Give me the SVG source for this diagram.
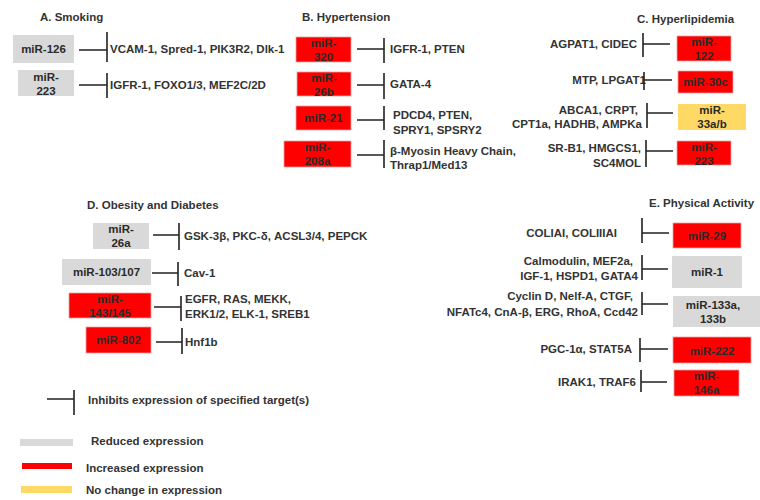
<svg xmlns="http://www.w3.org/2000/svg" width="760" height="500" viewBox="0 0 760 500">
<style>
text{font-family:"Liberation Sans",Arial,sans-serif;font-weight:bold;font-size:11.5px;fill:#333}
.c{text-anchor:middle}
.e{text-anchor:end}
.bx text{fill:#2a2a2a}
.red{fill:#ff0000;stroke:#e8a0a0;stroke-width:0.8}
.gray{fill:#d9d9d9}
.yel{fill:#ffd966}
.inh{stroke:#222;stroke-width:1.6;fill:none}
</style>
<rect width="760" height="500" fill="#fff"/>
<!-- titles -->
<text x="40" y="21">A. Smoking</text>
<text x="302" y="21">B. Hypertension</text>
<text x="637" y="23">C. Hyperlipidemia</text>
<text x="87" y="209">D. Obesity and Diabetes</text>
<text x="649" y="207">E. Physical Activity</text>

<!-- A -->
<g id="a1" class="bx"><rect class="gray" x="13" y="35" width="61" height="28"/><text class="c" x="43.5" y="53">miR-126</text></g>
<g id="a2" class="bx"><rect class="gray" x="18" y="70" width="56" height="26"/><text class="c" x="46" y="81">miR-</text><text class="c" x="46" y="95">223</text></g>
<g id="ta1"><text x="110" y="53">VCAM-1, Spred-1, PIK3R2, Dlk-1</text></g>
<g id="ta2"><text x="110" y="89">IGFR-1, FOXO1/3, MEF2C/2D</text></g>

<!-- B -->
<g id="b1" class="bx"><rect class="red" x="296" y="37" width="55" height="25"/><text class="c" x="323.5" y="47">miR-</text><text class="c" x="323.5" y="61">320</text></g>
<g id="b2" class="bx"><rect class="red" x="297" y="72" width="54" height="24"/><text class="c" x="324" y="82">miR-</text><text class="c" x="324" y="96">26b</text></g>
<g id="b3" class="bx"><rect class="red" x="296" y="106" width="55" height="24"/><text class="c" x="323.5" y="122">miR-21</text></g>
<g id="b4" class="bx"><rect class="red" x="284" y="141" width="67" height="26"/><text class="c" x="317.5" y="151">miR-</text><text class="c" x="317.5" y="165">208a</text></g>
<g id="tb1"><text x="390" y="53">IGFR-1, PTEN</text></g>
<g id="tb2"><text x="390" y="88">GATA-4</text></g>
<g id="tb3"><text x="393" y="119">PDCD4, PTEN,</text><text x="393" y="134">SPRY1, SPSRY2</text></g>
<g id="tb4"><text x="390" y="155">β-Myosin Heavy Chain,</text><text x="390" y="169">Thrap1/Med13</text></g>

<!-- C -->
<g id="c1" class="bx"><rect class="red" x="677" y="36" width="54" height="25"/><text class="c" x="704" y="46">miR-</text><text class="c" x="704" y="60">122</text></g>
<g id="c2" class="bx"><rect class="red" x="678" y="71" width="55" height="22"/><text class="c" x="705.5" y="86">miR-30c</text></g>
<g id="c3" class="bx"><rect class="yel" x="678" y="104" width="68" height="26"/><text class="c" x="712" y="114">miR-</text><text class="c" x="712" y="128">33a/b</text></g>
<g id="c4" class="bx"><rect class="red" x="677" y="141" width="54" height="24"/><text class="c" x="704" y="151">miR-</text><text class="c" x="704" y="165">223</text></g>
<g id="tc1"><text class="e" x="637" y="48">AGPAT1, CIDEC</text></g>
<g id="tc2"><text class="e" x="646" y="84">MTP, LPGAT1</text></g>
<g id="tc3"><text class="e" x="638" y="114">ABCA1, CRPT,</text><text class="e" x="642" y="128">CPT1a, HADHB, AMPKa</text></g>
<g id="tc4"><text class="e" x="641" y="152">SR-B1, HMGCS1,</text><text class="e" x="641" y="167">SC4MOL</text></g>

<!-- D -->
<g id="d1" class="bx"><rect class="gray" x="93" y="223" width="56" height="26"/><text class="c" x="121" y="233">miR-</text><text class="c" x="121" y="247">26a</text></g>
<g id="d2" class="bx"><rect class="gray" x="62" y="259" width="89" height="26"/><text class="c" x="106.5" y="276">miR-103/107</text></g>
<g id="d3" class="bx"><rect class="red" x="69" y="293" width="82" height="25"/><text class="c" x="110" y="303">miR-</text><text class="c" x="110" y="317">143/145</text></g>
<g id="d4" class="bx"><rect class="red" x="86" y="327" width="65" height="26"/><text class="c" x="118.5" y="344">miR-802</text></g>
<g id="td1"><text x="184" y="240">GSK-3β, PKC-δ, ACSL3/4, PEPCK</text></g>
<g id="td2"><text x="184" y="277">Cav-1</text></g>
<g id="td3"><text x="185" y="303">EGFR, RAS, MEKK,</text><text x="185" y="318">ERK1/2, ELK-1, SREB1</text></g>
<g id="td4"><text x="185" y="346">Hnf1b</text></g>

<!-- E -->
<g id="e1" class="bx"><rect class="red" x="673" y="223" width="68" height="25"/><text class="c" x="707" y="240">miR-29</text></g>
<g id="e2" class="bx"><rect class="gray" x="672" y="256" width="70" height="32"/><text class="c" x="707" y="276">miR-1</text></g>
<g id="e3" class="bx"><rect class="gray" x="673" y="296" width="87" height="31"/><text class="c" x="713" y="309">miR-133a,</text><text class="c" x="713" y="323">133b</text></g>
<g id="e4" class="bx"><rect class="red" x="673" y="337" width="78" height="26"/><text class="c" x="712" y="355">miR-222</text></g>
<g id="e5" class="bx"><rect class="red" x="674" y="370" width="65" height="26"/><text class="c" x="706.5" y="380">miR-</text><text class="c" x="706.5" y="394">146a</text></g>
<g id="te1"><text class="e" x="617" y="237">COLIAI, COLIIIAI</text></g>
<g id="te2"><text class="e" x="633" y="265">Calmodulin, MEF2a,</text><text class="e" x="638" y="280">IGF-1, HSPD1, GATA4</text></g>
<g id="te3"><text class="e" x="633" y="300">Cyclin D, Nelf-A, CTGF,</text><text class="e" x="638" y="316">NFATc4, CnA-β, ERG, RhoA, Ccd42</text></g>
<g id="te4"><text class="e" x="632" y="353">PGC-1α, STAT5A</text></g>
<g id="te5"><text class="e" x="636" y="386">IRAK1, TRAF6</text></g>

<!-- connectors -->
<g id="connectors" class="inh">
<path d="M79 50H107M107 32V62"/>
<path d="M79 85H107M107 73V98"/>
<path d="M357 49H384M384 38V63"/>
<path d="M357 85H384M384 73V99"/>
<path d="M357 120H384M384 106V130"/>
<path d="M357 155H384M384 140V168"/>
<path d="M670 44H643M643 33V57"/>
<path d="M672 80H644M644 72V90"/>
<path d="M673 113H647M647 103V128"/>
<path d="M673 151H646M646 140V167"/>
<path d="M153 235H179M179 223V250"/>
<path d="M152 273H178M178 262V286"/>
<path d="M154 307H181M181 296V321"/>
<path d="M156 342H182M182 328V354"/>
<path d="M669 233H642M642 218V243"/>
<path d="M668 269H642M642 255V280"/>
<path d="M668 304H642M642 292V315"/>
<path d="M668 349H640M640 338V362"/>
<path d="M667 382H641M641 370V392"/>
</g>

<!-- legend -->
<g id="legend">
<path class="inh" d="M47 399H74M74 390V415"/>
<text x="88" y="404">Inhibits expression of specified target(s)</text>
<rect class="gray" x="20" y="439" width="53" height="7"/>
<text x="91" y="445">Reduced expression</text>
<rect fill="#ff0000" x="22" y="463" width="50" height="6"/>
<text x="86" y="472">Increased expression</text>
<rect class="yel" x="21" y="486" width="51" height="7"/>
<text x="86" y="494">No change in expression</text>
</g>
</svg>
